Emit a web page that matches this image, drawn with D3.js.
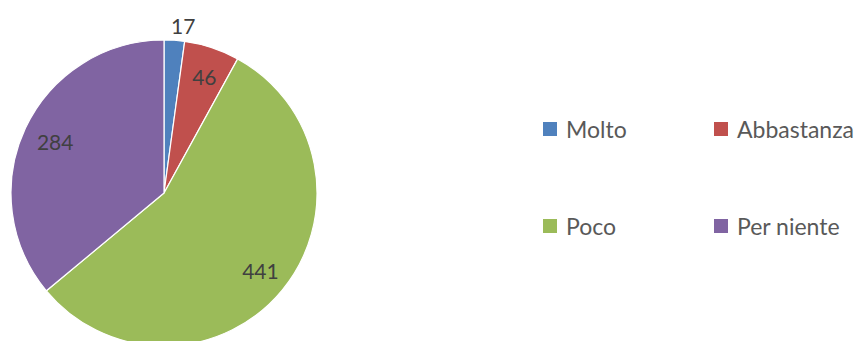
<!DOCTYPE html>
<html>
<head>
<meta charset="utf-8">
<script src="https://cdn.jsdelivr.net/npm/d3@7"></script>
<style>
  html, body { margin: 0; padding: 0; background: #fff; }
  svg { display: block; }
</style>
</head>
<body>
<svg id="chart" width="863" height="341"></svg>
<script>
// Survey answers
const categories = ["Molto", "Abbastanza", "Poco", "Per niente"];
const values = [17, 46, 441, 284];
const colors = ["#4F81BD", "#C0504D", "#9BBB59", "#8064A2"];

const svg = d3.select("#chart");
const font = "Lato, 'Open Sans', sans-serif";

const cx = 164, cy = 193, r = 153;

const pie = d3.pie().sort(null).value(d => d.value);
const arcs = pie(categories.map((c, i) => ({ name: c, value: values[i], color: colors[i] })));

const arc = d3.arc().innerRadius(0).outerRadius(r);
const labelArc = d3.arc().innerRadius(r * 0.8).outerRadius(r * 0.8);
const outerLabelArc = d3.arc().innerRadius(r * 1.09).outerRadius(r * 1.09);

const g = svg.append("g").attr("transform", `translate(${cx},${cy})`);

g.selectAll("path.slice")
  .data(arcs)
  .join("path")
  .attr("class", "slice")
  .attr("d", arc)
  .attr("fill", d => d.data.color)
  .attr("stroke", "#fff")
  .attr("stroke-width", 1.2);

// Value labels: inside the slice, or just outside when the slice is too thin
g.selectAll("text.value")
  .data(arcs)
  .join("text")
  .attr("class", "value")
  .attr("transform", d => {
    const small = (d.endAngle - d.startAngle) < 0.3;
    const [x, y] = small ? outerLabelArc.centroid(d) : labelArc.centroid(d);
    return `translate(${small ? x + 8 : x + 2},${small ? y - 1 : y})`;
  })
  .attr("text-anchor", "middle")
  .attr("dominant-baseline", "central")
  .attr("font-family", font)
  .attr("font-size", 21)
  .attr("fill", "#404040")
  .text(d => d.data.value);

// Legend, two columns by two rows
const legendX = d3.scaleOrdinal().domain([0, 1]).range([543, 714]);
const legendY = d3.scaleOrdinal().domain([0, 1]).range([129, 226]);

const items = svg.selectAll("g.legend")
  .data(categories)
  .join("g")
  .attr("class", "legend")
  .attr("transform", (d, i) => `translate(${legendX(i % 2)},${legendY(Math.floor(i / 2))})`);

items.append("rect")
  .attr("x", 0).attr("y", -7)
  .attr("width", 14).attr("height", 14)
  .attr("fill", (d, i) => colors[i]);

items.append("text")
  .attr("x", 23)
  .attr("y", 0)
  .attr("dominant-baseline", "central")
  .attr("font-family", font)
  .attr("font-size", 23)
  .attr("fill", "#595959")
  .text(d => d);
</script>
</body>
</html>
